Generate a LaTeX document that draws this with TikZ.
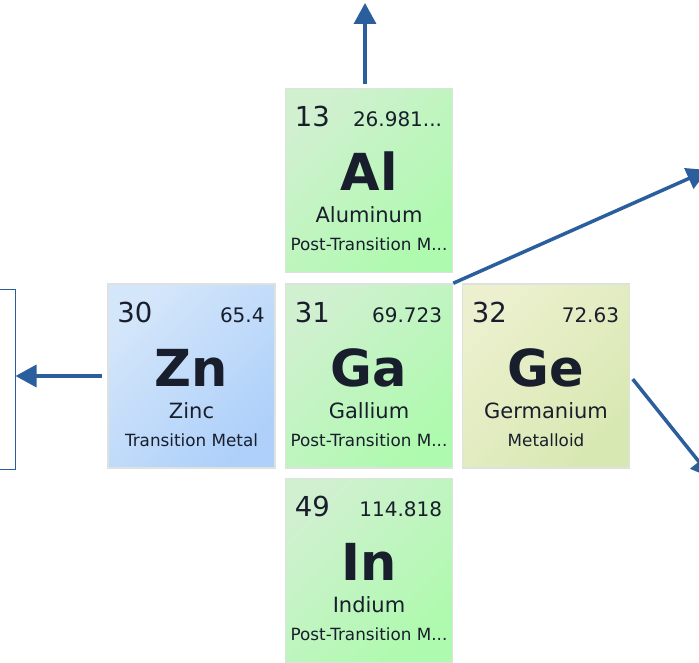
\documentclass[tikz,border=0pt]{standalone}
\usepackage{fontspec}
\setmainfont{DejaVu Sans}
\usepackage{tikz}
\usetikzlibrary{arrows.meta}

\definecolor{linkblue}{RGB}{42,94,156}
\definecolor{inktext}{RGB}{24,30,44}
\definecolor{tileedge}{RGB}{222,226,222}
\definecolor{greenA}{RGB}{208,240,208}
\definecolor{greenB}{RGB}{174,250,174}
\definecolor{blueA}{RGB}{212,230,250}
\definecolor{blueB}{RGB}{174,208,250}
\definecolor{limeA}{RGB}{236,240,206}
\definecolor{limeB}{RGB}{216,232,178}

% one element tile: name, centre, shading, number, mass, symbol, element, category
\newcommand{\elemtile}[8]{%
  \node[tile, #3] (#1) at #2 {};
  \node[numtext, anchor=base west] (#1-num) at ([xshift=10pt,yshift=-39pt]#1.north west) {#4};
  \node[masstext, anchor=base east] (#1-mass) at ([xshift=-11pt,yshift=-39pt]#1.north east) {#5};
  \node[symtext, anchor=base] (#1-sym) at ([yshift=-103pt]#1.north) {#6};
  \node[nametext, anchor=base] (#1-name) at ([yshift=-135pt]#1.north) {#7};
  \node[cattext, anchor=base] (#1-cat) at ([yshift=-163pt]#1.north) {#8};
}

\begin{document}
\begin{tikzpicture}[x=1pt, y=-1pt,
    tile/.style={draw=tileedge, line width=1.5pt, minimum width=167pt, minimum height=184pt, inner sep=0pt},
    greentile/.style={top color=greenA, bottom color=greenB, shading angle=45},
    bluetile/.style={top color=blueA, bottom color=blueB, shading angle=45},
    limetile/.style={top color=limeA, bottom color=limeB, shading angle=45},
    numtext/.style={inner sep=0pt, text=inktext, font=\fontsize{27.5}{27.5}\selectfont},
    masstext/.style={inner sep=0pt, text=inktext, font=\fontsize{20}{20}\selectfont},
    symtext/.style={inner sep=0pt, text=inktext, font=\fontsize{51}{51}\selectfont\bfseries},
    nametext/.style={inner sep=0pt, text=inktext, font=\fontsize{21}{21}\selectfont},
    cattext/.style={inner sep=0pt, text=inktext, font=\fontsize{16.8}{16.8}\selectfont},
    link/.style={draw=linkblue, line width=3.5pt, -{Triangle[length=21pt,width=22pt]}}]

    \useasboundingbox (0,0) rectangle (699,663);
    \clip (0,0) rectangle (699,663);

    % Tiles
    \elemtile{al}{(369,180.5)}{greentile}{13}{26.981...}{Al}{Aluminum}{Post-Transition M...}
    \elemtile{zn}{(191.5,376)}{bluetile}{30}{65.4}{Zn}{Zinc}{Transition Metal}
    \elemtile{ga}{(369,376)}{greentile}{31}{69.723}{Ga}{Gallium}{Post-Transition M...}
    \elemtile{ge}{(546,376)}{limetile}{32}{72.63}{Ge}{Germanium}{Metalloid}
    \elemtile{in}{(369,570.5)}{greentile}{49}{114.818}{In}{Indium}{Post-Transition M...}

    % Box cut by the left edge
    \node[draw=linkblue, line width=1pt, minimum width=60pt, minimum height=180pt] (prev) at (-15,379) {};

    % Targets outside the picture
    \coordinate (up) at (365,3);
    \coordinate (ne) at (708,170);
    \coordinate (se) at (712,478);

    % Arrows
    \draw[link, shorten <=4pt] (up |- al.north) -- (up);
    \draw[link] (ga.north east) -- (ne);
    \draw[link, shorten <=5pt] (zn.west) -- (zn.west -| prev.east);
    \draw[link, shorten <=4pt] (ge.east) -- (se);

\end{tikzpicture}
\end{document}
